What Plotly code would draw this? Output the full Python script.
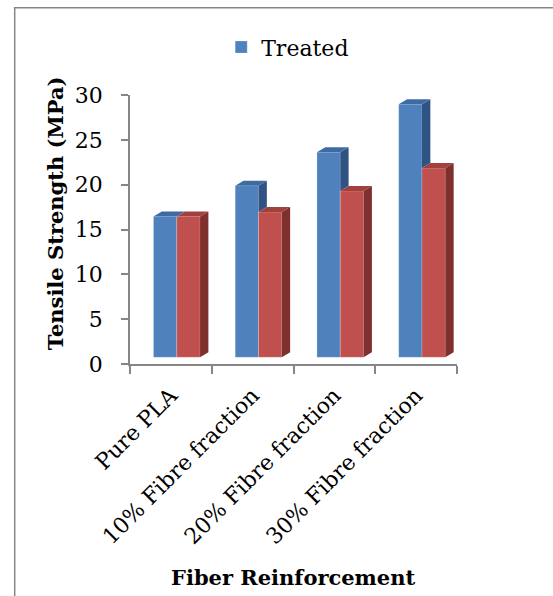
import plotly.graph_objects as go

# ---- data ----
categories = ["Pure PLA", "10% Fibre fraction", "20% Fibre fraction", "30% Fibre fraction"]
treated = [16.0, 19.5, 23.3, 28.75]
untreated = [16.0, 16.5, 18.9, 21.5]
y_ticks = [0, 5, 10, 15, 20, 25, 30]

# ---- styling ----
FONT = "DejaVu Serif"
GRAY = "#868686"
BLUE_FRONT, BLUE_TOP, BLUE_SIDE = "#4F81BD", "#3E6BA3", "#2F5483"
RED_FRONT, RED_TOP, RED_SIDE = "#C0504D", "#A2403D", "#7D302E"

BAR_W = 0.285      # width of one column (x units)
SHIFT = 0.072      # shift of the column pair from the category centre
DEPTH_X = 0.102    # projected depth, x units
DEPTH_Y = 0.57     # projected depth, front-plane y units

xs = list(range(len(categories)))


def poly(points):
    px = [p[0] for p in points] + [points[0][0], None]
    py = [p[1] for p in points] + [points[0][1], None]
    return px, py


def face_trace(xlist, ylist, color):
    return go.Scatter(
        x=xlist, y=ylist, xaxis="x", yaxis="y2",
        mode="lines", line=dict(width=0, color=color),
        fill="toself", fillcolor=color,
        hoverinfo="skip", showlegend=False,
    )


fig = go.Figure()

# empty trace so the visible value axis has a subplot to live on
fig.add_trace(go.Scatter(x=[None], y=[None], xaxis="x", yaxis="y",
                         showlegend=False, hoverinfo="skip"))

# front faces
fig.add_trace(go.Bar(
    x=xs, y=treated, name="Treated", xaxis="x", yaxis="y2",
    offset=SHIFT - BAR_W, width=BAR_W,
    marker=dict(color=BLUE_FRONT, line=dict(color="rgba(255,255,255,0.35)", width=0.6)),
))
fig.add_trace(go.Bar(
    x=xs, y=untreated, name="Untreated", xaxis="x", yaxis="y2",
    offset=SHIFT, width=BAR_W, showlegend=False,
    marker=dict(color=RED_FRONT, line=dict(color="rgba(255,255,255,0.35)", width=0.6)),
))

# top and side faces that give the columns their depth
bt_x, bt_y, bs_x, bs_y = [], [], [], []
rt_x, rt_y, rs_x, rs_y = [], [], [], []
for i, (vb, vr) in enumerate(zip(treated, untreated)):
    b0 = i + SHIFT - BAR_W
    b1 = i + SHIFT
    r1 = b1 + BAR_W
    px, py = poly([(b0, vb), (b1, vb), (b1 + DEPTH_X, vb + DEPTH_Y), (b0 + DEPTH_X, vb + DEPTH_Y)])
    bt_x += px; bt_y += py
    if vb > vr:
        px, py = poly([(b1, vr), (b1, vb), (b1 + DEPTH_X, vb + DEPTH_Y), (b1 + DEPTH_X, vr + DEPTH_Y)])
        bs_x += px; bs_y += py
    px, py = poly([(b1, vr), (r1, vr), (r1 + DEPTH_X, vr + DEPTH_Y), (b1 + DEPTH_X, vr + DEPTH_Y)])
    rt_x += px; rt_y += py
    px, py = poly([(r1, 0), (r1, vr), (r1 + DEPTH_X, vr + DEPTH_Y), (r1 + DEPTH_X, DEPTH_Y)])
    rs_x += px; rs_y += py

fig.add_trace(face_trace(bs_x, bs_y, BLUE_SIDE))
fig.add_trace(face_trace(bt_x, bt_y, BLUE_TOP))
fig.add_trace(face_trace(rs_x, rs_y, RED_SIDE))
fig.add_trace(face_trace(rt_x, rt_y, RED_TOP))

fig.update_layout(
    width=553, height=596,
    margin=dict(l=130, r=96, t=95, b=232),
    paper_bgcolor="white", plot_bgcolor="white",
    barmode="overlay",
    font=dict(family=FONT, size=22, color="black"),
    showlegend=True,
    legend=dict(
        orientation="h", xref="container", yref="container",
        x=0.40, y=0.956, xanchor="left", yanchor="top",
        font=dict(family=FONT, size=22, color="black"),
        bgcolor="rgba(0,0,0,0)",
    ),
    xaxis=dict(
        type="linear", range=[-0.5, 3.5],
        tickmode="array", tickvals=xs, ticktext=categories,
        tickangle=-45, ticks="",
        showline=True, linecolor=GRAY, linewidth=1.5,
        showgrid=False, zeroline=False,
        tickfont=dict(family=FONT, size=22, color="black"),
        minor=dict(tickmode="array", tickvals=[-0.5, 0.5, 1.5, 2.5, 3.5],
                   ticks="outside", ticklen=8, tickwidth=1.5, tickcolor=GRAY,
                   showgrid=False),
        ticklabelstandoff=8,
    ),
    yaxis=dict(
        range=[0, 30], tickmode="array", tickvals=y_ticks,
        ticks="outside", ticklen=7, tickwidth=1.5, tickcolor=GRAY,
        showline=True, linecolor=GRAY, linewidth=1.5,
        showgrid=False, zeroline=False,
        tickfont=dict(family=FONT, size=22, color="black"),
        ticklabelstandoff=14,
    ),
    yaxis2=dict(
        overlaying="y", range=[-0.761, 29.81], visible=False,
    ),
    annotations=[
        dict(text="<b>Tensile Strength (MPa)</b>", textangle=-90,
             xref="paper", yref="paper", x=-0.2296, y=0.56,
             xanchor="center", yanchor="middle", showarrow=False,
             font=dict(family=FONT, size=21, color="black")),
        dict(text="<b>Fiber Reinforcement</b>",
             xref="paper", yref="paper", x=0.497, y=-0.795,
             xanchor="center", yanchor="middle", showarrow=False,
             font=dict(family=FONT, size=21, color="black")),
    ],
    shapes=[
        dict(type="path", xref="paper", yref="paper",
             path="M -0.3526,-0.95 L -0.3526,1.3242 L 1.4,1.3242",
             line=dict(color=GRAY, width=1.5)),
    ],
)

fig.write_html("out.html")
